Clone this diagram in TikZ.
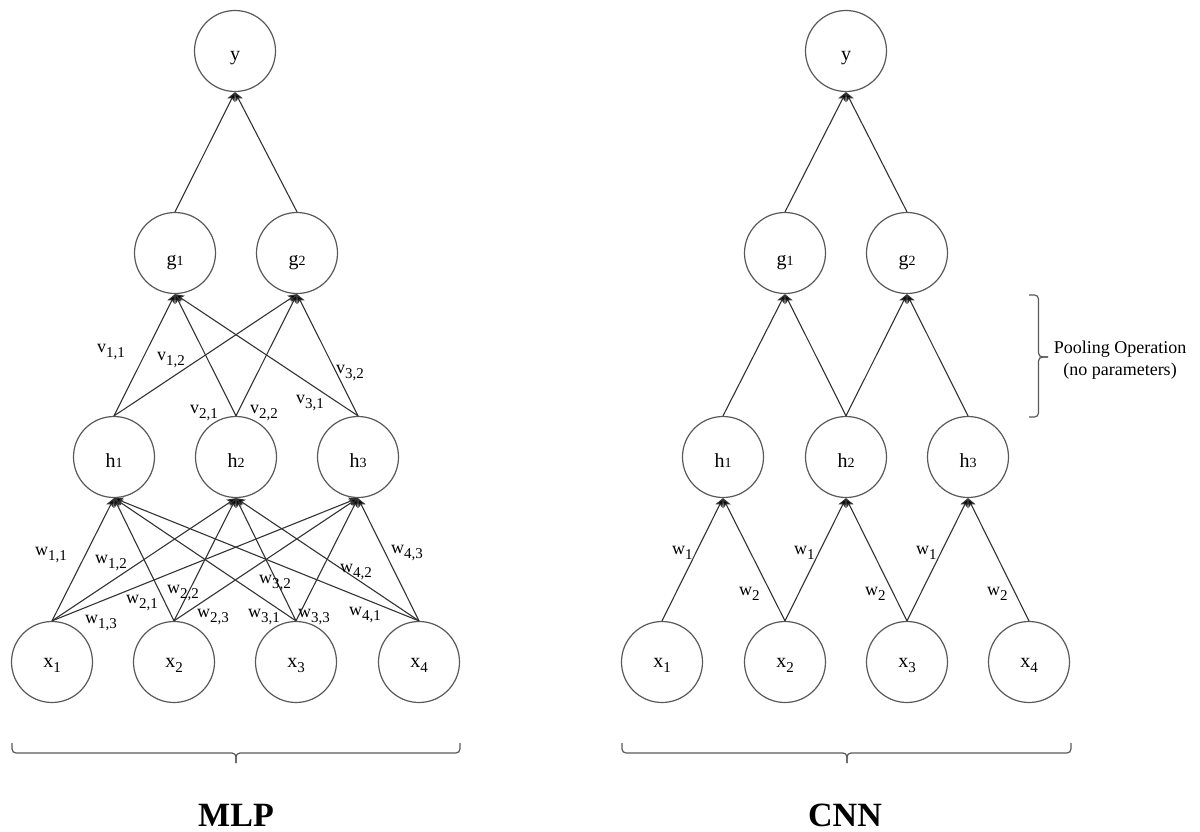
\documentclass[tikz,border=0pt]{standalone}
\usepackage{fontspec}
\setmainfont{Liberation Serif}
\usetikzlibrary{arrows.meta,calc}
% lowered subscript and small baseline digit
\newcommand\sbx[1]{\raisebox{-5pt}{\fontsize{15}{15}\selectfont #1}}
\newcommand\smd[1]{{\fontsize{14}{14}\selectfont #1}}

\begin{document}
\begin{tikzpicture}[x=1pt,y=-1pt,
  neuron/.style={circle,draw=black!65,line width=1.2pt,minimum size=81pt,inner sep=0pt,
    font=\fontsize{20}{20}\selectfont,text height=20pt,text depth=0pt},
  inneuron/.style={neuron,text height=10pt},
  gneuron/.style={neuron,text height=24pt},
  conn/.style={draw=black!80,line width=1.1pt,-{Stealth[length=9pt,width=8pt,inset=2pt,fill=black]}},
  wlbl/.style={anchor=base west,inner sep=0pt,font=\fontsize{18}{18}\selectfont},
  brc/.style={draw=black!65,line width=1.2pt,rounded corners=4pt},
  title/.style={anchor=base,inner sep=0pt,font=\fontsize{34}{34}\selectfont\bfseries},
  note/.style={anchor=base,inner sep=0pt,font=\fontsize{18}{18}\selectfont},
]
\useasboundingbox (0,0) rectangle (1200,832);

% ---------------- MLP ----------------
\node[neuron] (my) at (235,51) {y};
\node[gneuron] (mg1) at (175,253) {g\smd{1}};
\node[gneuron] (mg2) at (297,253) {g\smd{2}};
\node[neuron] (mh1) at (114,457) {h\smd{1}};
\node[neuron] (mh2) at (236,457) {h\smd{2}};
\node[neuron] (mh3) at (358,457) {h\smd{3}};
\node[inneuron] (mx1) at (52,662) {x\sbx{1}};
\node[inneuron] (mx2) at (174,662) {x\sbx{2}};
\node[inneuron] (mx3) at (296,662) {x\sbx{3}};
\node[inneuron] (mx4) at (419,662) {x\sbx{4}};

\foreach \i in {1,...,4}
  \foreach \j in {1,2,3}
    \draw[conn] (mx\i.north) -- (mh\j.south);
\foreach \i in {1,2,3}
  \foreach \k in {1,2}
    \draw[conn] (mh\i.north) -- (mg\k.south);
\draw[conn] (mg1.north) -- (my.south);
\draw[conn] (mg2.north) -- (my.south);

\node[wlbl] (w11) at (35,555) {w\sbx{1,1}};
\node[wlbl] (w12) at (95,563) {w\sbx{1,2}};
\node[wlbl] (w21) at (126,603) {w\sbx{2,1}};
\node[wlbl] (w13) at (85,623) {w\sbx{1,3}};
\node[wlbl] (w22) at (167,593) {w\sbx{2,2}};
\node[wlbl] (w23) at (197,617) {w\sbx{2,3}};
\node[wlbl] (w32) at (259,583) {w\sbx{3,2}};
\node[wlbl] (w31) at (248,617) {w\sbx{3,1}};
\node[wlbl] (w33) at (298,617) {w\sbx{3,3}};
\node[wlbl] (w42) at (340,572) {w\sbx{4,2}};
\node[wlbl] (w41) at (349,615) {w\sbx{4,1}};
\node[wlbl] (w43) at (391,553) {w\sbx{4,3}};

\node[wlbl] (v11) at (97,352) {v\sbx{1,1}};
\node[wlbl] (v12) at (157,360) {v\sbx{1,2}};
\node[wlbl] (v21) at (190,413) {v\sbx{2,1}};
\node[wlbl] (v22) at (250,413) {v\sbx{2,2}};
\node[wlbl] (v31) at (296,403) {v\sbx{3,1}};
\node[wlbl] (v32) at (336,373) {v\sbx{3,2}};

\draw[brc] (12,743) -- (12,753) -- (236,753) -- (236,763);
\draw[brc] (460,743) -- (460,753) -- (236,753) -- (236,763);
\node[title] (mlp) at (236,826) {MLP};

% ---------------- CNN ----------------
\node[neuron] (cy) at (846,51) {y};
\node[gneuron] (cg1) at (785,253) {g\smd{1}};
\node[gneuron] (cg2) at (907,253) {g\smd{2}};
\node[neuron] (ch1) at (723,457) {h\smd{1}};
\node[neuron] (ch2) at (846,457) {h\smd{2}};
\node[neuron] (ch3) at (968,457) {h\smd{3}};
\node[inneuron] (cx1) at (662,662) {x\sbx{1}};
\node[inneuron] (cx2) at (785,662) {x\sbx{2}};
\node[inneuron] (cx3) at (907,662) {x\sbx{3}};
\node[inneuron] (cx4) at (1029,662) {x\sbx{4}};

\draw[conn] (cx1.north) -- (ch1.south);
\draw[conn] (cx2.north) -- (ch1.south);
\draw[conn] (cx2.north) -- (ch2.south);
\draw[conn] (cx3.north) -- (ch2.south);
\draw[conn] (cx3.north) -- (ch3.south);
\draw[conn] (cx4.north) -- (ch3.south);
\draw[conn] (ch1.north) -- (cg1.south);
\draw[conn] (ch2.north) -- (cg1.south);
\draw[conn] (ch2.north) -- (cg2.south);
\draw[conn] (ch3.north) -- (cg2.south);
\draw[conn] (cg1.north) -- (cy.south);
\draw[conn] (cg2.north) -- (cy.south);

\node[wlbl] (cw1a) at (672,554) {w\sbx{1}};
\node[wlbl] (cw2a) at (739,595) {w\sbx{2}};
\node[wlbl] (cw1b) at (794,554) {w\sbx{1}};
\node[wlbl] (cw2b) at (865,595) {w\sbx{2}};
\node[wlbl] (cw1c) at (916,554) {w\sbx{1}};
\node[wlbl] (cw2c) at (987,595) {w\sbx{2}};

% pooling brace and note
\draw[brc] (1029,295) -- (1038.5,295) -- (1038.5,357) -- (1048,357);
\draw[brc] (1029,417) -- (1038.5,417) -- (1038.5,357) -- (1048,357);
\node[note] (pool1) at (1120,353) {Pooling Operation};
\node[note] (pool2) at (1120,375) {(no parameters)};

\draw[brc] (622,743) -- (622,753) -- (847,753) -- (847,763);
\draw[brc] (1071,743) -- (1071,753) -- (847,753) -- (847,763);
\node[title] (cnn) at (845,826) {CNN};
\end{tikzpicture}
\end{document}
